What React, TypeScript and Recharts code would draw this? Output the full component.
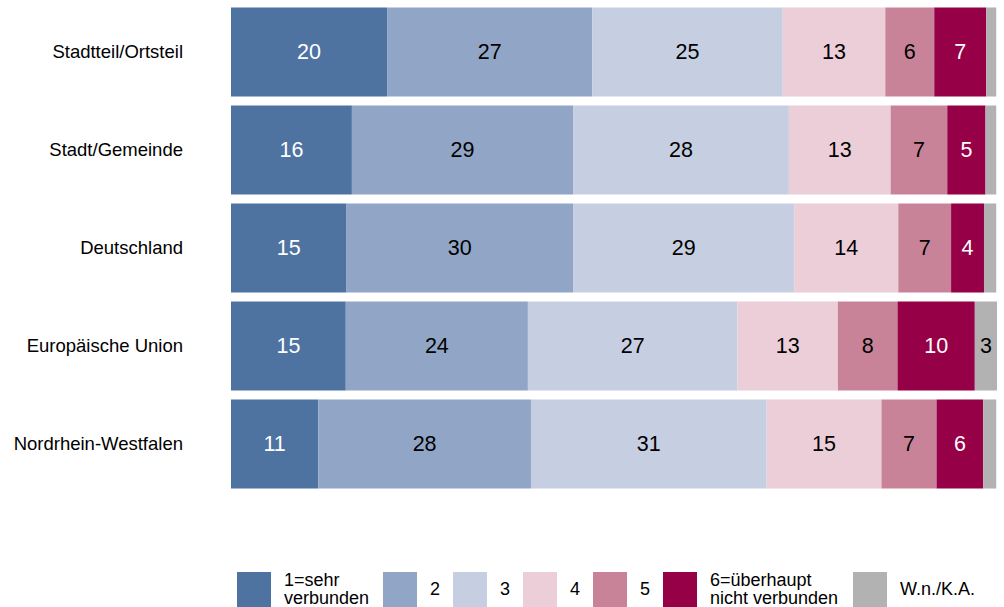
import { Bar, BarChart, LabelList, XAxis, YAxis } from "recharts"

const categories = [
  "Stadtteil/Ortsteil",
  "Stadt/Gemeinde",
  "Deutschland",
  "Europäische Union",
  "Nordrhein-Westfalen",
]

const sehrVerbunden = [20.4, 15.8, 15.1, 15.0, 11.4]
const stufe2 = [26.8, 28.9, 29.6, 23.8, 27.8]
const stufe3 = [24.9, 28.2, 28.9, 27.4, 30.8]
const stufe4 = [13.4, 13.3, 13.6, 13.1, 15.0]
const stufe5 = [6.4, 7.4, 6.9, 7.8, 7.2]
const nichtVerbunden = [6.8, 5.0, 4.3, 10.1, 6.1]
const keineAngabe = [1.3, 1.4, 1.6, 2.9, 1.7]

const series = [
  { key: "s1", values: sehrVerbunden, label: ["1=sehr", "verbunden"], color: "#4e73a0", text: "#ffffff" },
  { key: "s2", values: stufe2, label: ["2"], color: "#91a6c6", text: "#000000" },
  { key: "s3", values: stufe3, label: ["3"], color: "#c6cee1", text: "#000000" },
  { key: "s4", values: stufe4, label: ["4"], color: "#ebced8", text: "#000000" },
  { key: "s5", values: stufe5, label: ["5"], color: "#c98399", text: "#000000" },
  { key: "s6", values: nichtVerbunden, label: ["6=überhaupt", "nicht verbunden"], color: "#960047", text: "#ffffff" },
  { key: "s7", values: keineAngabe, label: ["W.n./K.A."], color: "#b2b2b2", text: "#000000" },
]

// width of each legend entry (swatch + text + gap)
const legendWidths = [146, 70, 70, 70, 70, 190, 120]

const data = categories.map((name, i) => {
  const row: Record<string, string | number> = { name }
  series.forEach((s) => {
    row[s.key] = s.values[i]
  })
  return row
})

const font = "'Liberation Sans', Arial, sans-serif"

function makeLabel(color: string) {
  return (props: any) => {
    const { x, y, width, height, value } = props
    if (value < 2.5) return null
    return (
      <text
        x={x + width / 2}
        y={y + height / 2}
        textAnchor="middle"
        dominantBaseline="central"
        fill={color}
        fontSize={21.5}
        fontFamily={font}
      >
        {Math.round(value)}
      </text>
    )
  }
}

function Legend() {
  return (
    <div
      style={{
        position: "absolute",
        left: 237,
        top: 571,
        display: "flex",
        alignItems: "center",
        fontFamily: font,
        fontSize: 18,
        lineHeight: "18px",
        color: "#000",
      }}
    >
      {series.map((s, i) => (
        <div key={s.key} style={{ display: "flex", alignItems: "center", width: legendWidths[i], flexShrink: 0 }}>
          <div style={{ width: 34, height: 35, background: s.color, marginRight: 13, flexShrink: 0 }} />
          <div style={{ whiteSpace: "nowrap" }}>
            {s.label.map((l) => (
              <div key={l}>{l}</div>
            ))}
          </div>
        </div>
      ))}
    </div>
  )
}

export default function App() {
  return (
    <div style={{ position: "relative", width: 1004, height: 607, background: "#fff", overflow: "hidden" }}>
      <style>{`body{margin:0}`}</style>
      <BarChart
        width={1004}
        height={495}
        data={data}
        layout="vertical"
        margin={{ top: 2.5, right: 7, bottom: 2.5, left: 0 }}
        barSize={89}
      >
        <XAxis type="number" domain={[0, 100]} hide />
        <YAxis
          type="category"
          dataKey="name"
          width={231}
          axisLine={false}
          tickLine={false}
          tickSize={0}
          tickMargin={48}
          tick={{ fill: "#000", fontSize: 18.5, fontFamily: font }}
        />
        {series.map((s) => (
          <Bar key={s.key} dataKey={s.key} stackId="a" fill={s.color} isAnimationActive={false}>
            <LabelList dataKey={s.key} content={makeLabel(s.text)} />
          </Bar>
        ))}
      </BarChart>
      <Legend />
    </div>
  )
}
